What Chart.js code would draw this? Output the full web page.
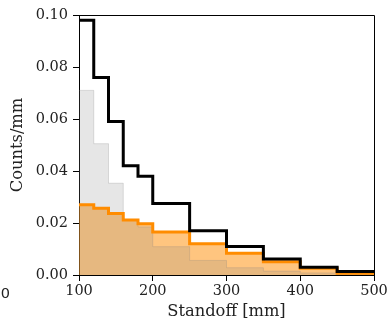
<!DOCTYPE html>
<html lang="en">
<head>
  <meta charset="UTF-8">
  <title>Standoff histogram</title>
  <script src="https://cdn.jsdelivr.net/npm/chart.js"></script>
  <style>
    body { margin: 0; background: #fff; }
  </style>
</head>
<body>
  <canvas id="standoffChart" width="391" height="324"></canvas>

  <script>
    // bin edges in mm and counts/mm per bin
    const binEdges = [100, 120, 140, 160, 180, 200, 250, 300, 350, 400, 450, 500];
    const blackCounts = [0.098, 0.076, 0.059, 0.042, 0.038, 0.0275, 0.017, 0.011, 0.0062, 0.003, 0.0013];
    const greyCounts = [0.071, 0.0505, 0.0353, 0.021, 0.0185, 0.0109, 0.0056, 0.0028, 0.0015, 0.0008, 0.0003];
    const orangeCounts = [0.027, 0.0257, 0.0237, 0.0212, 0.0197, 0.0165, 0.012, 0.0084, 0.0051, 0.0026, 0.0007];
    const xTicks = [100, 200, 300, 400, 500];
    const yTicks = [0, 0.02, 0.04, 0.06, 0.08, 0.1];

    // step points: one per edge, last edge repeats the last bin
    function toSteps(vals) {
      return binEdges.map((e, i) => ({ x: e, y: vals[Math.min(i, vals.length - 1)] }));
    }

    const tickFont = { family: "DejaVu Serif", size: 14.5 };
    const titleFont = { family: "DejaVu Serif", size: 16.3 };

    // box round the plot + the stray "0" tick label at x = 0
    const framePlugin = {
      id: "frame",
      afterDraw(chart) {
        const { ctx, chartArea: a, scales } = chart;
        ctx.save();
        ctx.strokeStyle = "#000";
        ctx.lineWidth = 1;
        ctx.beginPath();
        ctx.moveTo(a.left, a.top + 0.5);
        ctx.lineTo(a.right + 0.5, a.top + 0.5);
        ctx.lineTo(a.right + 0.5, a.bottom);
        ctx.stroke();
        ctx.fillStyle = "#222";
        ctx.font = "14.5px 'DejaVu Sans'";
        ctx.textAlign = "center";
        ctx.textBaseline = "middle";
        ctx.fillText("0", scales.x.getPixelForValue(0), 294);
        ctx.restore();
      }
    };

    const ctx = document.getElementById("standoffChart").getContext("2d");
    new Chart(ctx, {
      type: "line",
      data: {
        datasets: [
          {
            label: "orange fill",
            data: toSteps(orangeCounts),
            stepped: true,
            borderWidth: 0,
            borderColor: "rgba(0,0,0,0)",
            backgroundColor: "rgba(255,140,0,0.5)",
            fill: "origin",
            pointRadius: 0,
            order: 4
          },
          {
            label: "grey",
            data: toSteps(greyCounts),
            stepped: true,
            borderWidth: 1,
            borderColor: "rgba(128,128,128,0.25)",
            backgroundColor: "rgba(128,128,128,0.2)",
            fill: "origin",
            pointRadius: 0,
            order: 3
          },
          {
            label: "orange",
            data: toSteps(orangeCounts),
            stepped: true,
            borderWidth: 3,
            borderColor: "rgb(255,140,0)",
            fill: false,
            pointRadius: 0,
            order: 2
          },
          {
            label: "black",
            data: toSteps(blackCounts),
            stepped: true,
            borderWidth: 3,
            borderColor: "#000",
            fill: false,
            pointRadius: 0,
            order: 1
          }
        ]
      },
      options: {
        responsive: false,
        animation: false,
        layout: { padding: { left: 0, top: 15, right: 17, bottom: 0 } },
        plugins: {
          legend: { display: false },
          tooltip: { enabled: false }
        },
        scales: {
          x: {
            type: "linear",
            min: 100,
            max: 500,
            afterBuildTicks: s => { s.ticks = xTicks.map(v => ({ value: v })); },
            afterFit: s => { s.height = 49; },
            ticks: { color: "#222", font: tickFont, padding: 2, maxRotation: 0 },
            grid: { drawOnChartArea: false, drawTicks: true, tickLength: 6, color: "#000" },
            border: { display: true, color: "#000", width: 1 },
            title: {
              display: true,
              text: "Standoff [mm]",
              color: "#222",
              font: titleFont,
              padding: { top: 0, bottom: 2 }
            }
          },
          y: {
            min: 0,
            max: 0.1,
            afterBuildTicks: s => { s.ticks = yTicks.map(v => ({ value: v })); },
            afterFit: s => { s.width = 79; },
            ticks: {
              color: "#222",
              font: tickFont,
              padding: 5,
              callback: v => v.toFixed(2)
            },
            grid: { drawOnChartArea: false, drawTicks: true, tickLength: 6, color: "#000" },
            border: { display: true, color: "#000", width: 1 },
            title: {
              display: true,
              text: "Counts/mm",
              color: "#222",
              font: titleFont,
              padding: { top: 8, bottom: 0 }
            }
          }
        }
      },
      plugins: [framePlugin]
    });
  </script>
</body>
</html>
